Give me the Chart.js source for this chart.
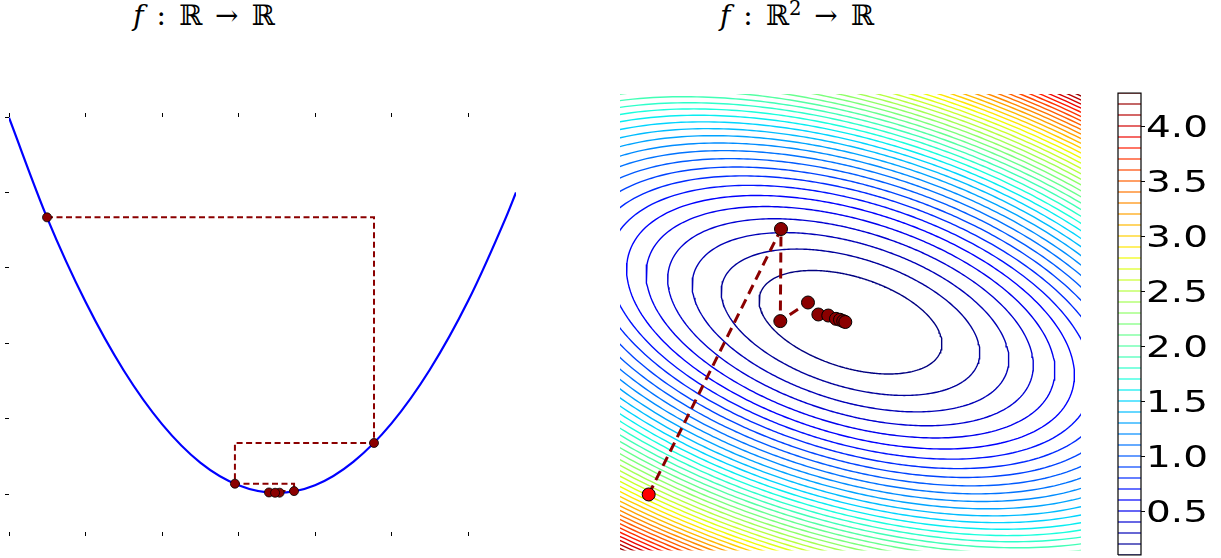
<!DOCTYPE html>
<html lang="en">
<head>
    <meta charset="UTF-8">
    <title>Gradient descent in 1D and 2D</title>
    <script src="https://cdn.jsdelivr.net/npm/chart.js"></script>
    <style>
        body { margin: 0; background: #fff; width: 1221px; height: 558px; overflow: hidden; position: relative; }
        .panel { position: absolute; top: 0; height: 558px; }
        .title {
            position: absolute; top: 0; line-height: 32px;
            font-family: 'DejaVu Serif', serif; font-size: 28px; word-spacing: 4px;
            white-space: nowrap; transform: translateX(-50%);
        }
        .title sup { font-size: 0.7em; line-height: 0; }
    </style>
</head>
<body>
    <div class="title" style="left:204px;"><i>f</i> : ℝ → ℝ</div>
    <div class="title" style="left:797px;"><i>f</i> : ℝ<sup>2</sup> → ℝ</div>

    <div class="panel" style="left:0; width:530px;"><canvas id="curveChart"></canvas></div>
    <div class="panel" style="left:600px; width:500px;"><canvas id="contourChart"></canvas></div>
    <div class="panel" style="left:1100px; width:121px;"><canvas id="colorbarChart"></canvas></div>

    <script>
        // ---- left panel: f(x) and the descent steps ----
        const curveX = [-3, -2.5, -2, -1.5, -1, -0.5, 0, 0.5, 1, 1.5, 2, 2.5, 3, 3.5, 3.627];
        const curveY = [4.99, 3.66, 2.55, 1.64, 0.93, 0.42, 0.12, 0.02, 0.12, 0.43, 0.94, 1.65, 2.56, 3.68, 4.0];
        const stepX = [-2.503, 1.771, -0.047, 0.726, 0.398, 0.537, 0.478];
        const stepY = [3.67, 0.68, 0.14, 0.042, 0.024, 0.021, 0.020];
        const leftXTicks = [-3, -2, -1, 0, 1, 2, 3];
        const leftYTicks = [0, 1, 2, 3, 4, 5];

        // ---- right panel: contours of f(x, y) and the descent path ----
        const quadCoef = [0.1925, 0.281, 0.589];   // a*x^2 + b*x*y + c*y^2
        const levels = [0.1, 0.2, 0.3, 0.4, 0.5, 0.6, 0.7, 0.8, 0.9, 1.0,
                        1.1, 1.2, 1.3, 1.4, 1.5, 1.6, 1.7, 1.8, 1.9, 2.0,
                        2.1, 2.2, 2.3, 2.4, 2.5, 2.6, 2.7, 2.8, 2.9, 3.0,
                        3.1, 3.2, 3.3, 3.4, 3.5, 3.6, 3.7, 3.8, 3.9, 4.0,
                        4.1, 4.2, 4.3];
        const pathX = [-1.751, -0.603, -0.609, -0.369, -0.279, -0.193, -0.126, -0.091, -0.063, -0.045];
        const pathY = [-1.509, 0.817, 0.010, 0.173, 0.068, 0.059, 0.030, 0.022, 0.010, 0.002];
        const cbTicks = [0.5, 1.0, 1.5, 2.0, 2.5, 3.0, 3.5, 4.0];

        const darkRed = '#8b0000';

        // matplotlib "jet"
        const jetR = [[0, 0], [0.35, 0], [0.66, 1], [0.89, 1], [1, 0.5]];
        const jetG = [[0, 0], [0.125, 0], [0.375, 1], [0.64, 1], [0.91, 0], [1, 0]];
        const jetB = [[0, 0.5], [0.11, 1], [0.34, 1], [0.65, 0], [1, 0]];
        function seg(pts, t) {
            for (let i = 1; i < pts.length; i++) {
                if (t <= pts[i][0]) {
                    const [x0, y0] = pts[i - 1], [x1, y1] = pts[i];
                    return y0 + (y1 - y0) * (t - x0) / (x1 - x0);
                }
            }
            return pts[pts.length - 1][1];
        }
        function jet(v) {
            const lo = levels[0], hi = levels[levels.length - 1];
            const t = Math.min(1, Math.max(0, (v - lo) / (hi - lo)));
            const c = [jetR, jetG, jetB].map(p => Math.round(255 * seg(p, t)));
            return `rgb(${c[0]},${c[1]},${c[2]})`;
        }

        function setTicks(values) {
            return scale => { scale.ticks = values.map(v => ({ value: v })); };
        }
        const tickAxis = (extra) => Object.assign({
            border: { display: false },
            grid: { drawOnChartArea: false, drawTicks: true, tickLength: 4, color: '#000', lineWidth: 1 },
            ticks: { display: false }
        }, extra);

        // staircase path for the 1D case
        const stairs = [];
        for (let i = 0; i < stepX.length; i++) {
            stairs.push({ x: stepX[i], y: stepY[i] });
            if (i + 1 < stepX.length) stairs.push({ x: stepX[i + 1], y: stepY[i] });
        }

        new Chart(document.getElementById('curveChart'), {
            type: 'scatter',
            data: {
                datasets: [
                    {
                        data: stepX.map((x, i) => ({ x: x, y: stepY[i] })),
                        pointRadius: 4.5, pointBackgroundColor: darkRed,
                        pointBorderColor: '#000', pointBorderWidth: 0.8,
                        showLine: false, order: 0
                    },
                    {
                        data: stairs, showLine: true, pointRadius: 0,
                        borderColor: darkRed, borderWidth: 2, borderDash: [6, 3.5],
                        order: 1
                    },
                    {
                        data: curveX.map((x, i) => ({ x: x, y: curveY[i] })),
                        showLine: true, pointRadius: 0, borderColor: '#0000ff', borderWidth: 2.2,
                        cubicInterpolationMode: 'monotone', order: 2
                    }
                ]
            },
            options: {
                animation: false,
                responsive: true,
                maintainAspectRatio: false,
                layout: { padding: { left: 5, right: 14, top: 113, bottom: 22 } },
                plugins: { legend: { display: false }, tooltip: { enabled: false } },
                scales: {
                    x: tickAxis({ type: 'linear', position: 'bottom', min: -3, max: 3.627, afterBuildTicks: setTicks(leftXTicks) }),
                    x2: tickAxis({ type: 'linear', axis: 'x', position: 'top', min: -3, max: 3.627, afterBuildTicks: setTicks(leftXTicks) }),
                    y: tickAxis({ type: 'linear', position: 'left', min: -0.5, max: 5, afterBuildTicks: setTicks(leftYTicks) })
                }
            }
        });

        // contour lines, one dataset per level
        const [qa, qb, qc] = quadCoef;
        const contourSets = levels.map(L => {
            const pts = [];
            for (let i = 0; i <= 360; i++) {
                const th = i / 360 * 2 * Math.PI;
                const cs = Math.cos(th), sn = Math.sin(th);
                const r = Math.sqrt(L / (qa * cs * cs + qb * cs * sn + qc * sn * sn));
                pts.push({ x: r * cs, y: r * sn });
            }
            return {
                data: pts, showLine: true, pointRadius: 0,
                borderColor: jet(L), borderWidth: 1.4, order: 3
            };
        });

        const path = pathX.map((x, i) => ({ x: x, y: pathY[i] }));
        new Chart(document.getElementById('contourChart'), {
            type: 'scatter',
            data: {
                datasets: [
                    {
                        data: path, showLine: false,
                        pointRadius: 6.5, pointBorderColor: '#000', pointBorderWidth: 1,
                        pointBackgroundColor: path.map((p, i) => i === 0 ? '#ff0000' : darkRed),
                        order: 0
                    },
                    {
                        data: path, showLine: true, pointRadius: 0,
                        borderColor: darkRed, borderWidth: 3, borderDash: [10, 6], order: 1
                    },
                    ...contourSets
                ]
            },
            options: {
                animation: false,
                responsive: true,
                maintainAspectRatio: false,
                layout: { padding: { left: 20, right: 19, top: 94, bottom: 5 } },
                plugins: { legend: { display: false }, tooltip: { enabled: false } },
                scales: {
                    x: { type: 'linear', min: -2, max: 2, display: false },
                    y: { type: 'linear', min: -2, max: 2, display: false }
                }
            }
        });

        // colorbar labels, drawn a bit wide like the original
        const cbLabels = {
            id: 'cbLabels',
            afterDraw(chart) {
                const ys = chart.scales.y, ctx = chart.ctx;
                ctx.save();
                ctx.fillStyle = '#000';
                ctx.font = '30px "DejaVu Sans"';
                ctx.textBaseline = 'alphabetic';
                ys.ticks.forEach(t => {
                    ctx.save();
                    ctx.translate(chart.chartArea.right + 5, ys.getPixelForValue(t.value) + 11);
                    ctx.scale(1.3, 1);
                    ctx.fillText(t.value.toFixed(1), 0, 0);
                    ctx.restore();
                });
                ctx.restore();
            }
        };

        const lo = levels[0], hi = levels[levels.length - 1];
        new Chart(document.getElementById('colorbarChart'), {
            type: 'scatter',
            data: {
                datasets: [
                    {
                        data: [{ x: 0, y: lo }, { x: 1, y: lo }, { x: 1, y: hi }, { x: 0, y: hi }, { x: 0, y: lo }],
                        showLine: true, pointRadius: 0, borderColor: '#000', borderWidth: 1.2,
                        clip: 3, order: 0
                    },
                    ...levels.map(L => ({
                        data: [{ x: 0, y: L }, { x: 1, y: L }],
                        showLine: true, pointRadius: 0, borderColor: jet(L), borderWidth: 1.2, order: 1
                    }))
                ]
            },
            options: {
                animation: false,
                responsive: true,
                maintainAspectRatio: false,
                layout: { padding: { left: 18, right: 76, top: 93, bottom: 3 } },
                plugins: { legend: { display: false }, tooltip: { enabled: false } },
                scales: {
                    x: { type: 'linear', min: 0, max: 1, display: false },
                    y: tickAxis({ type: 'linear', position: 'right', min: lo, max: hi, afterBuildTicks: setTicks(cbTicks) })
                }
            },
            plugins: [cbLabels]
        });
    </script>
</body>
</html>
